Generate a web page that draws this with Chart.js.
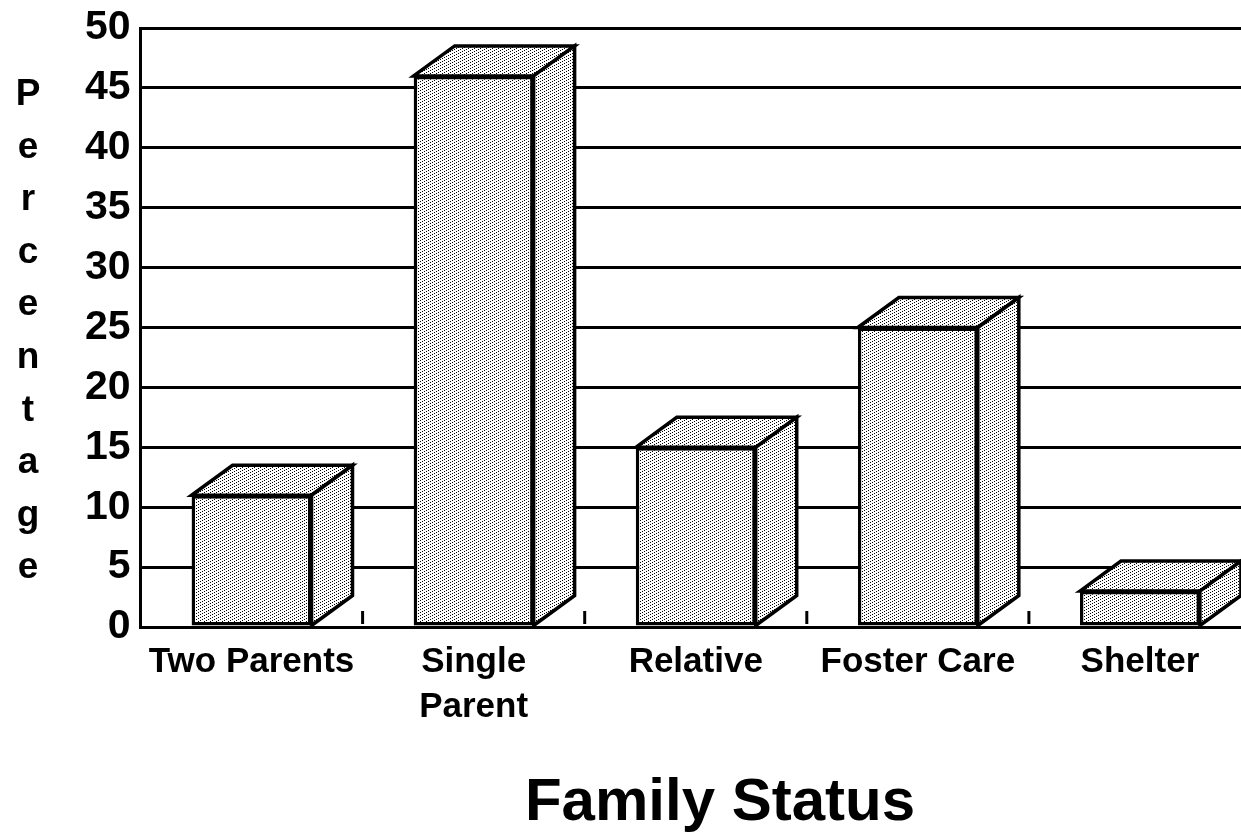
<!DOCTYPE html>
<html>
<head>
<meta charset="utf-8">
<title>Family Status</title>
<script src="https://cdn.jsdelivr.net/npm/chart.js@4.4.1/dist/chart.umd.min.js"></script>
<style>
  html, body { margin: 0; padding: 0; background: #fff; overflow: hidden; }
  #wrap { width: 1251px; height: 835px; }
</style>
</head>
<body>
<div id="wrap"><canvas id="chart" width="1251" height="835"></canvas></div>
<script>
// ==========================
// DATA
// ==========================
const categories = ["Two Parents", ["Single", "Parent"], "Relative", "Foster Care", "Shelter"];
const percentages = [11, 46, 15, 25, 3];
const yMin = 0;
const yMax = 50;
const yStep = 5;
const yTitle = "Percentage";
const xTitle = "Family Status";

// ==========================
// LOOK
// ==========================
const FONT = "'Liberation Sans', Arial, Helvetica, sans-serif";
const depthX = 41;
const depthY = -30;

// stipple tile for the bar faces
function makeStipple() {
  const c = document.createElement("canvas");
  c.width = 6;
  c.height = 6;
  const g = c.getContext("2d");
  g.fillStyle = "#fff";
  g.fillRect(0, 0, 6, 6);
  g.fillStyle = "#000";
  for (let x = 0; x < 6; x += 2) {
    for (let y = x % 3; y < 6; y += 3) {
      g.fillRect(x, y, 1, 1);
    }
  }
  return g.createPattern(c, "repeat");
}

const ctx = document.getElementById("chart").getContext("2d");
const stipple = makeStipple();

// ==========================
// PLUGINS
// ==========================
// short marks on the floor between categories
const floorTicks = {
  id: "floorTicks",
  beforeDatasetsDraw(chart) {
    const xs = chart.scales.x;
    const bottom = chart.chartArea.bottom;
    const c = chart.ctx;
    c.save();
    c.strokeStyle = "#000";
    c.lineWidth = 3;
    for (let i = 0; i < categories.length - 1; i++) {
      const x = (xs.getPixelForValue(i) + xs.getPixelForValue(i + 1)) / 2;
      c.beginPath();
      c.moveTo(x, bottom - 16);
      c.lineTo(x, bottom - 3);
      c.stroke();
    }
    c.restore();
  }
};

// top and side faces of each box
const bar3d = {
  id: "bar3d",
  afterDatasetsDraw(chart) {
    const c = chart.ctx;
    const meta = chart.getDatasetMeta(0);
    c.save();
    c.lineWidth = 3.5;
    c.strokeStyle = "#000";
    meta.data.forEach(bar => {
      const { x, y, base, width } = bar.getProps(["x", "y", "base", "width"], true);
      const l = x - width / 2;
      const r = x + width / 2;

      c.beginPath();
      c.moveTo(l, y);
      c.lineTo(l + depthX, y + depthY);
      c.lineTo(r + depthX, y + depthY);
      c.lineTo(r, y);
      c.closePath();
      c.fillStyle = stipple;
      c.fill();
      c.stroke();

      c.beginPath();
      c.moveTo(r, y);
      c.lineTo(r + depthX, y + depthY);
      c.lineTo(r + depthX, base + depthY);
      c.lineTo(r, base);
      c.closePath();
      c.fill();
      c.stroke();
    });
    c.restore();
  }
};

// stacked letters on the left and the big caption underneath
const titles = {
  id: "titles",
  afterDraw(chart) {
    const c = chart.ctx;
    c.save();
    c.fillStyle = "#000";
    c.textAlign = "center";
    c.textBaseline = "alphabetic";
    c.font = "bold 37px " + FONT;
    yTitle.split("").forEach((ch, i) => {
      c.fillText(ch, 28, 105 + i * 52.6);
    });
    c.font = "bold 60px " + FONT;
    c.fillText(xTitle, 720, 820);
    c.restore();
  }
};

// ==========================
// CHART
// ==========================
const chart = new Chart(ctx, {
  type: "bar",
  data: {
    labels: categories,
    datasets: [{
      data: percentages,
      backgroundColor: stipple,
      borderColor: "#000",
      borderWidth: 3.5,
      borderSkipped: false,
      barPercentage: 0.54,
      categoryPercentage: 1
    }]
  },
  options: {
    responsive: false,
    animation: false,
    devicePixelRatio: 1,
    layout: { padding: { top: 28, left: 0, right: 0, bottom: 0 } },
    plugins: {
      legend: { display: false },
      tooltip: { enabled: false }
    },
    scales: {
      x: {
        grid: { display: false },
        border: { display: true, color: "#000", width: 3 },
        ticks: {
          color: "#000",
          padding: 5,
          maxRotation: 0,
          autoSkip: false,
          font: { family: FONT, size: 35, weight: "bold", lineHeight: 1.28 }
        },
        afterFit(scale) {
          scale.height = 208;
          scale.paddingLeft = 0;
          scale.paddingRight = 0;
        }
      },
      y: {
        min: yMin,
        max: yMax,
        grid: { color: "#000", lineWidth: 3, drawTicks: false },
        border: { display: true, color: "#000", width: 3 },
        ticks: {
          stepSize: yStep,
          color: "#000",
          padding: 10,
          font: { family: FONT, size: 41, weight: "bold" }
        },
        afterFit(scale) {
          scale.width = 140.5;
          scale.paddingTop = 0;
          scale.paddingBottom = 0;
        }
      }
    }
  },
  plugins: [floorTicks, bar3d, titles]
});
</script>
</body>
</html>
